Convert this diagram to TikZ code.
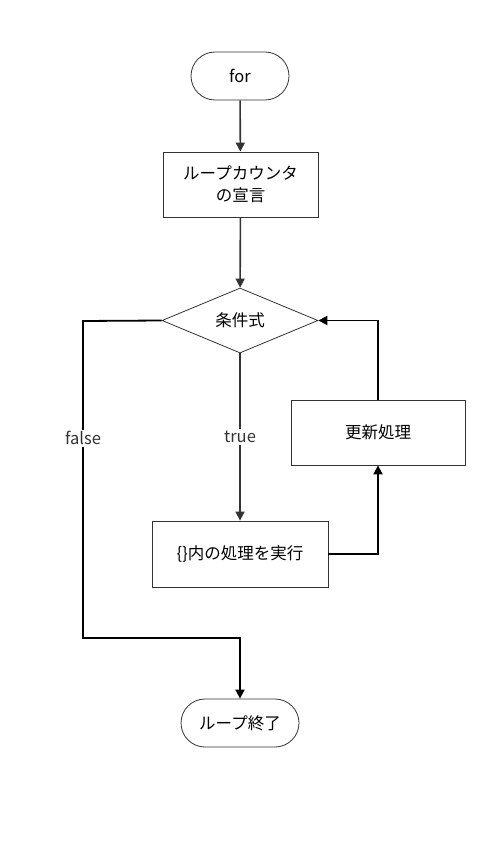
\documentclass[tikz,border=0pt]{standalone}
\usepackage{fontspec}
\setmainfont{Noto Sans CJK JP}
\usetikzlibrary{arrows.meta,shapes.geometric}
\tikzset{
  term/.style={draw=black!80, thick, rounded corners=24pt, minimum height=48pt, font=\fontsize{16.5}{20}\selectfont},
  proc/.style={draw=black!80, thick, minimum height=65pt, align=center, font=\fontsize{16.5}{22}\selectfont},
  cond/.style={draw=black!80, thick, diamond, minimum width=156pt, minimum height=65pt, inner sep=0pt, font=\fontsize{16.5}{20}\selectfont},
  flow/.style={-{Triangle[width=9pt,length=9pt]}, line width=1.6pt, black!80},
  loop/.style={-{Triangle[width=9pt,length=9pt]}, line width=1.8pt, black, line join=miter},
  lbl/.style={fill=white, inner sep=2pt, font=\fontsize{16.5}{20}\selectfont, text=black!80}
}
\begin{document}
\begin{tikzpicture}[x=1pt, y=-1pt]
  \useasboundingbox (0,0) rectangle (480,842);
  % nodes
  \node[term, minimum width=98pt] (start) at (240,76) {for};
  \node[proc, minimum width=155pt] (decl) at (240.5,184.5) {ループカウンタ\\の宣言};
  \node[cond] (test) at (240,320.5) {条件式};
  \node[proc, minimum width=174pt] (update) at (378,432.5) {更新処理};
  \node[proc, minimum width=176pt, minimum height=66pt] (body) at (240,554) {\{\}内の処理を実行};
  \node[term, minimum width=118pt] (stop) at (240,723) {ループ終了};
  \coordinate (fl) at (83,321);
  \coordinate (fb) at (83,638);
  \coordinate (fr) at (240,638);
  % connectors
  \draw[flow] (start) -- (decl);
  \draw[flow] (decl) -- (test);
  \draw[flow] (test) -- node[lbl, pos=0.5] {true} (body);
  \draw[loop] (body.east) -| (update.south);
  \draw[loop] (update.north) |- (test.east);
  \draw[loop] (test.west) -- (fl) -- node[lbl, pos=0.37] {false} (fb) -- (fr) -- (stop.north);
\end{tikzpicture}
\end{document}
